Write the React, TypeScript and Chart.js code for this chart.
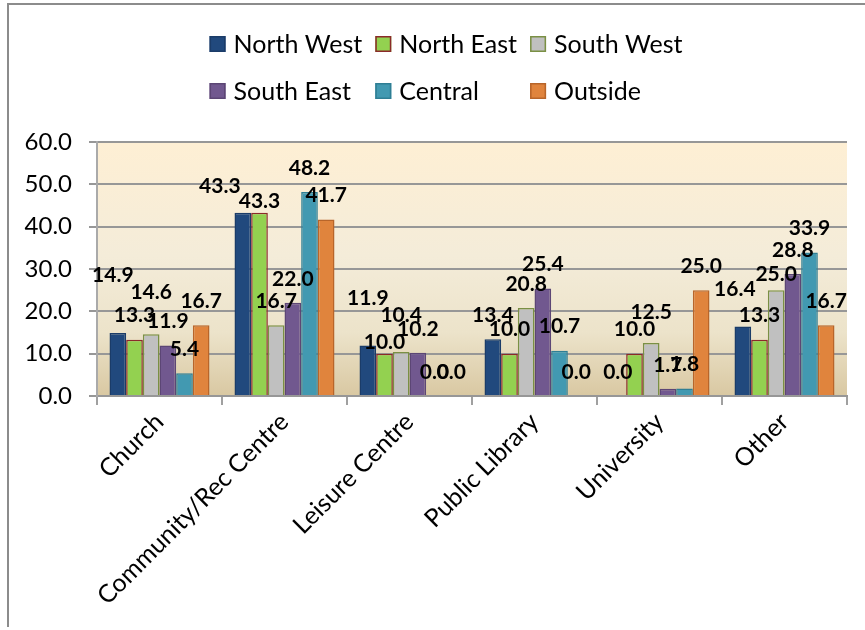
import React, { useEffect, useRef } from 'react';
import { Chart, registerables } from 'chart.js';

Chart.register(...registerables);

// ---- data ----
const categories = ['Church', 'Community/Rec Centre', 'Leisure Centre', 'Public Library', 'University', 'Other'];
const seriesNames = ['North West', 'North East', 'South West', 'South East', 'Central', 'Outside'];
const northWest = [14.9, 43.3, 11.9, 13.4, 0.0, 16.4];
const northEast = [13.3, 43.3, 10.0, 10.0, 10.0, 13.3];
const southWest = [14.6, 16.7, 10.4, 20.8, 12.5, 25.0];
const southEast = [11.9, 22.0, 10.2, 25.4, 1.7, 28.8];
const central = [5.4, 48.2, 0.0, 10.7, 1.8, 33.9];
const outside = [16.7, 41.7, 0.0, 0.0, 25.0, 16.7];
const yMin = 0;
const yMax = 60;
const yStep = 10;

// ---- styles ----
const fills = ['#21497D', '#93D150', '#C0C0C0', '#71588F', '#4299B1', '#E0843D'];
const borders = ['#1B3C68', '#8B2A2A', '#7A9044', '#5C4675', '#2F7E94', '#B8652A'];
const FONT = 'Lato, "Open Sans", sans-serif';

// label placement tweaks (dataset index - category index): [dx, dy] relative to default
const labelNudges: Record<string, [number, number]> = {
  '0-0': [-5, -34],
  '2-0': [0, -18],
  '0-1': [-23, -2],
  '1-1': [0, 13],
  '0-2': [0, -23],
  '1-2': [0, 13],
  '2-2': [0, -13],
  '2-4': [0, -7],
  '0-5': [-8, -13],
  '2-5': [0, 8],
};

const bgPlugin = {
  id: 'plotBg',
  beforeDraw(chart: any) {
    const { ctx, chartArea } = chart;
    if (!chartArea) return;
    const g = ctx.createLinearGradient(0, chartArea.top, 0, chartArea.bottom);
    g.addColorStop(0, '#FEEFD4');
    g.addColorStop(0.45, '#F4ECD9');
    g.addColorStop(0.75, '#ECE3CA');
    g.addColorStop(1, '#D9C8A2');
    ctx.save();
    ctx.fillStyle = g;
    ctx.fillRect(chartArea.left, chartArea.top, chartArea.right - chartArea.left, chartArea.bottom - chartArea.top);
    ctx.restore();
  },
};

const labelPlugin = {
  id: 'valueLabels',
  afterDatasetsDraw(chart: any) {
    const { ctx } = chart;
    ctx.save();
    ctx.font = `bold 21px ${FONT}`;
    ctx.fillStyle = '#000';
    ctx.textAlign = 'center';
    ctx.textBaseline = 'middle';
    chart.data.datasets.forEach((ds: any, di: number) => {
      const meta = chart.getDatasetMeta(di);
      meta.data.forEach((el: any, i: number) => {
        const v = ds.data[i];
        const n = labelNudges[`${di}-${i}`] || [0, 0];
        ctx.fillText(Number(v).toFixed(1), el.x + n[0], el.y - 24 + n[1]);
      });
    });
    ctx.restore();
  },
};

const legendPlugin = {
  id: 'gridLegend',
  afterDraw(chart: any) {
    const { ctx } = chart;
    const ds = chart.data.datasets;
    const cols = 3;
    const box = 16;
    const gap = 8;
    const colGap = 13;
    const rowY = [39, 86];
    ctx.save();
    ctx.font = `25px ${FONT}`;
    const widths = ds.map((d: any) => ctx.measureText(d.label).width);
    const colW: number[] = [];
    for (let c = 0; c < cols; c++) {
      let m = 0;
      for (let i = c; i < ds.length; i += cols) m = Math.max(m, widths[i]);
      colW.push(box + gap + m);
    }
    const total = colW.reduce((a, b) => a + b, 0) + colGap * (cols - 1);
    const x0 = (chart.width - total) / 2 + 9;
    ds.forEach((d: any, i: number) => {
      const c = i % cols;
      const r = Math.floor(i / cols);
      let x = x0;
      for (let k = 0; k < c; k++) x += colW[k] + colGap;
      const y = rowY[r];
      ctx.fillStyle = d.backgroundColor;
      ctx.fillRect(x, y - box / 2, box, box);
      ctx.strokeStyle = d.borderColor;
      ctx.lineWidth = 1.5;
      ctx.strokeRect(x + 0.75, y - box / 2 + 0.75, box - 1.5, box - 1.5);
      ctx.fillStyle = '#000';
      ctx.textAlign = 'left';
      ctx.textBaseline = 'middle';
      ctx.fillText(d.label, x + box + gap, y + 1);
    });
    ctx.restore();
  },
};

const seriesData = [northWest, northEast, southWest, southEast, central, outside];

export default function App() {
  const ref = useRef<HTMLCanvasElement | null>(null);

  useEffect(() => {
    if (!ref.current) return;
    const chart = new Chart(ref.current, {
      type: 'bar',
      data: {
        labels: categories,
        datasets: seriesNames.map((name, i) => ({
          label: name,
          data: seriesData[i],
          backgroundColor: fills[i],
          borderColor: borders[i],
          borderWidth: 1.5,
          barPercentage: 1,
          categoryPercentage: 0.8,
        })),
      },
      options: {
        responsive: false,
        animation: false,
        devicePixelRatio: 1,
        layout: { padding: { top: 137, right: 18, left: 0, bottom: 0 } },
        plugins: {
          legend: { display: false },
          tooltip: { enabled: false },
        },
        scales: {
          x: {
            grid: {
              display: true,
              drawOnChartArea: false,
              drawTicks: true,
              tickLength: 9,
              color: '#A0A0A0',
              lineWidth: 2,
              offset: true,
            },
            border: { display: true, color: '#979797', width: 2 },
            ticks: {
              minRotation: 45,
              maxRotation: 45,
              color: '#000',
              font: { family: FONT, size: 25 },
              padding: 2,
              autoSkip: false,
            },
            afterFit: (scale: any) => {
              scale.height = 231;
            },
          },
          y: {
            min: yMin,
            max: yMax,
            ticks: {
              stepSize: yStep,
              color: '#000',
              font: { family: FONT, size: 24 },
              padding: 17,
              callback: (v: any) => Number(v).toFixed(1),
            },
            grid: {
              color: '#979797',
              lineWidth: 2,
              tickLength: 8,
              drawTicks: true,
            },
            border: { display: true, color: '#AAAAAA', width: 2 },
            afterFit: (scale: any) => {
              scale.width = 88;
            },
          },
        },
      },
      plugins: [bgPlugin, labelPlugin, legendPlugin],
    });
    return () => chart.destroy();
  }, []);

  return (
    <div
      style={{
        position: 'absolute',
        left: 7,
        top: 3,
        width: 856,
        height: 622,
        borderLeft: '2px solid #8C8C8C',
        borderTop: '2px solid #8C8C8C',
        background: '#fff',
      }}
    >
      <canvas ref={ref} width={856} height={622} style={{ display: 'block' }} />
    </div>
  );
}
